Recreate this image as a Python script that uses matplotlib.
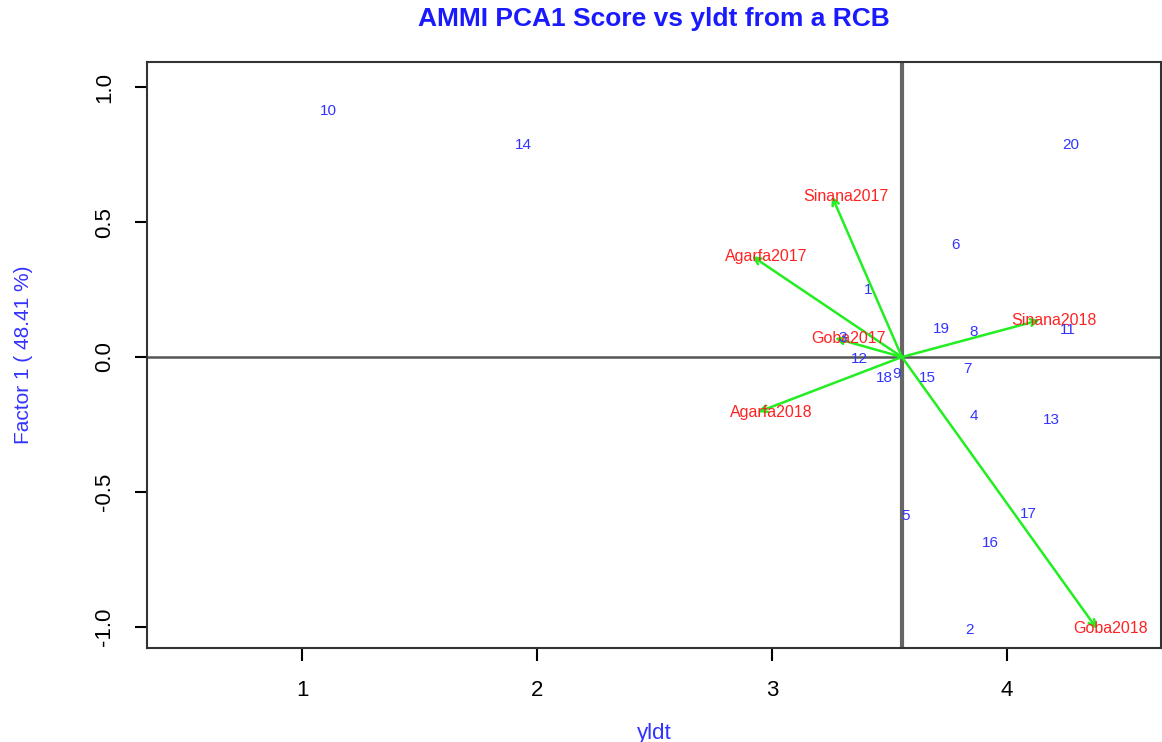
import matplotlib
matplotlib.use('Agg')
import matplotlib.pyplot as plt

plt.rcParams['font.family'] = ['Liberation Sans', 'DejaVu Sans']

# genotype scores (mean yield, PCA1)
gen_labels = ['1', '2', '3', '4', '5', '6', '7', '8', '9', '10',
              '11', '12', '13', '14', '15', '16', '17', '18', '19', '20']
gen_yld = [3.41, 3.84, 3.30, 3.86, 3.57, 3.78, 3.83, 3.86, 3.53, 1.11,
           4.26, 3.37, 4.19, 1.94, 3.66, 3.93, 4.09, 3.48, 3.72, 4.27]
gen_pc1 = [0.25, -1.01, 0.07, -0.22, -0.59, 0.415, -0.045, 0.093, -0.063, 0.91,
           0.10, -0.007, -0.235, 0.785, -0.078, -0.69, -0.58, -0.078, 0.104, 0.785]

# environment vectors
env_labels = ['Sinana2017', 'Agarfa2017', 'Goba2017', 'Sinana2018', 'Agarfa2018', 'Goba2018']
env_yld = [3.255, 2.915, 3.268, 4.14, 2.94, 4.383]
env_pc1 = [0.596, 0.374, 0.07, 0.137, -0.204, -1.007]

mean_yld = 3.553

fig = plt.figure(figsize=(11.62, 7.42), dpi=100)
ax = fig.add_axes([0.1265, 0.1267, 0.8725, 0.7897])

ax.set_xlim(0.34, 4.655)
ax.set_ylim(-1.078, 1.093)

ax.axhline(0, color='#555555', lw=1.8, zorder=1)
ax.axvline(mean_yld, color='#666666', lw=3, zorder=1)

for x, y in zip(env_yld, env_pc1):
    ax.annotate('', xy=(x, y), xytext=(mean_yld, 0),
                arrowprops=dict(arrowstyle='->', color='#22ee22', lw=1.8,
                                mutation_scale=12, shrinkA=0, shrinkB=0),
                zorder=2)
for lab, x, y in zip(env_labels, env_yld, env_pc1):
    ax.annotate(lab, xy=(x, y), xytext=(10, 0), textcoords='offset points',
                ha='center', va='center', color='#ff2222', fontsize=11.5, zorder=3)

for lab, x, y in zip(gen_labels, gen_yld, gen_pc1):
    ax.text(x, y, lab, ha='center', va='center', color='#3333ff',
            fontsize=11, zorder=3)

ax.set_xticks([1, 2, 3, 4])
ax.set_yticks([-1.0, -0.5, 0.0, 0.5, 1.0])
ax.set_yticklabels(['-1.0', '-0.5', '0.0', '0.5', '1.0'], rotation=90, va='center')
ax.tick_params(axis='both', direction='out', length=9, width=1.5,
               labelsize=16, colors='black', pad=14)
for s in ax.spines.values():
    s.set_linewidth(1.5)
    s.set_color('#333333')

ax.set_xlabel('yldt', color='#3333ff', fontsize=16, labelpad=16)
ax.set_ylabel('Factor 1 ( 48.41 %)', color='#3333ff', fontsize=15, labelpad=44)
ax.set_title('AMMI PCA1 Score vs yldt from a RCB', color='#1a1aff',
             fontsize=19, fontweight='bold', pad=26)

plt.savefig('out.png', dpi=100)
plt.close()
